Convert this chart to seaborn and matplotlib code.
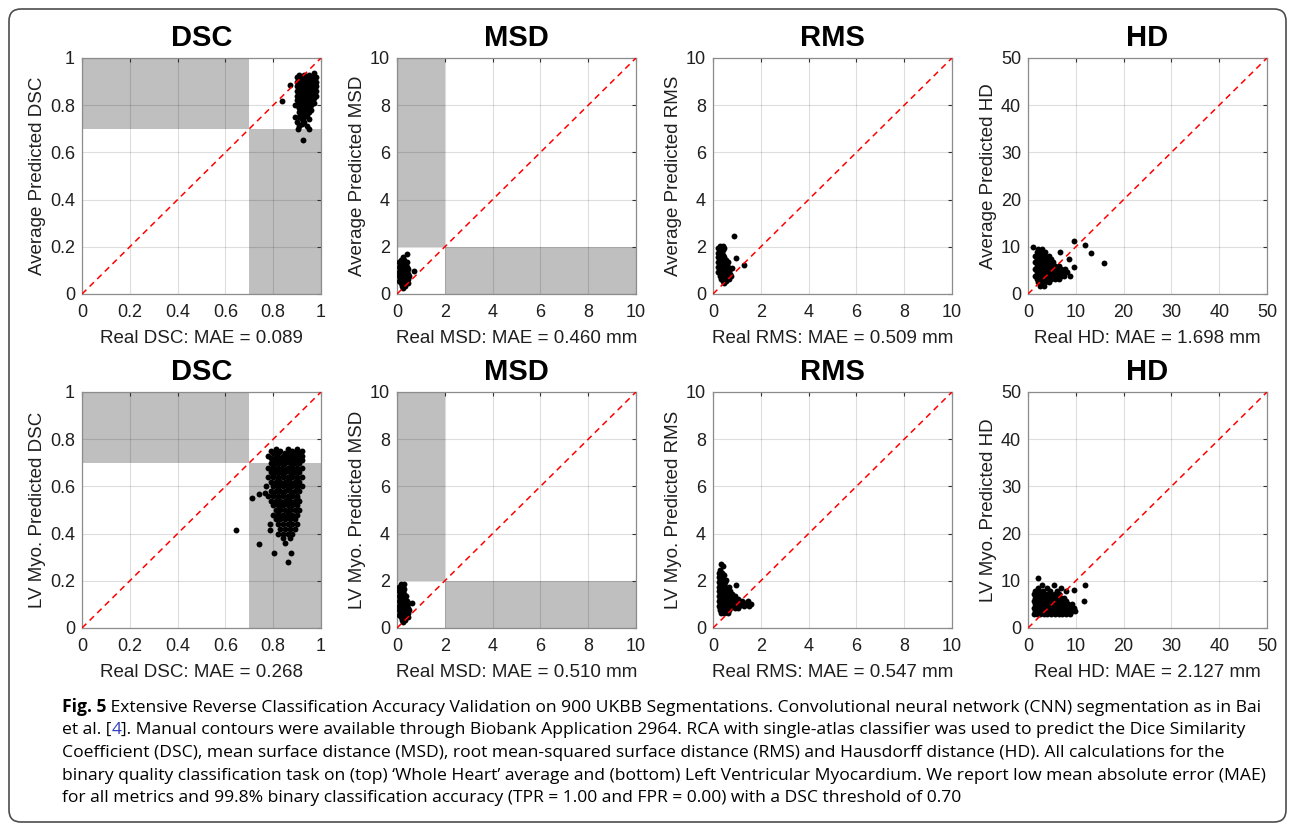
import numpy as np
import pandas as pd
import matplotlib
matplotlib.use("Agg")
import matplotlib.pyplot as plt
from matplotlib.patches import FancyBboxPatch, Rectangle
from matplotlib.transforms import IdentityTransform
from matplotlib.ticker import FuncFormatter
import seaborn as sns

# ---- data: (real, predicted) pairs per panel ----
dsc_avg = [
    (0.91, 0.93), (0.93, 0.93), (0.95, 0.93), (0.97, 0.935),
    (0.90, 0.92), (0.92, 0.92), (0.94, 0.92), (0.96, 0.92), (0.98, 0.92),
    (0.91, 0.91), (0.93, 0.91), (0.95, 0.91), (0.97, 0.91),
    (0.90, 0.90), (0.92, 0.90), (0.94, 0.90), (0.96, 0.90), (0.98, 0.90),
    (0.91, 0.89), (0.93, 0.89), (0.95, 0.89), (0.97, 0.89),
    (0.90, 0.88), (0.92, 0.88), (0.94, 0.88), (0.96, 0.88), (0.98, 0.88),
    (0.91, 0.87), (0.93, 0.87), (0.95, 0.87), (0.97, 0.87),
    (0.90, 0.86), (0.92, 0.86), (0.94, 0.86), (0.96, 0.86), (0.98, 0.86),
    (0.91, 0.85), (0.93, 0.85), (0.95, 0.85), (0.97, 0.85),
    (0.90, 0.84), (0.92, 0.84), (0.94, 0.84), (0.96, 0.84), (0.98, 0.84),
    (0.91, 0.83), (0.93, 0.83), (0.95, 0.83), (0.97, 0.83),
    (0.90, 0.82), (0.92, 0.82), (0.94, 0.82), (0.96, 0.82),
    (0.91, 0.81), (0.93, 0.81), (0.95, 0.81), (0.97, 0.81),
    (0.90, 0.80), (0.92, 0.80), (0.94, 0.80), (0.96, 0.80),
    (0.91, 0.79), (0.93, 0.79), (0.95, 0.79),
    (0.92, 0.78), (0.94, 0.78), (0.96, 0.78),
    (0.91, 0.77), (0.93, 0.77), (0.95, 0.77),
    (0.92, 0.76), (0.94, 0.76), (0.91, 0.75), (0.93, 0.75),
    (0.92, 0.74), (0.95, 0.74), (0.90, 0.73), (0.93, 0.73),
    (0.92, 0.72), (0.91, 0.71), (0.94, 0.71),
    (0.905, 0.698), (0.924, 0.651), (0.87, 0.885), (0.836, 0.818),
    (0.89, 0.80), (0.89, 0.75), (0.95, 0.70),
]
msd_avg = [
    (0.43, 1.71), (0.25, 1.55), (0.15, 1.45), (0.30, 1.45),
    (0.10, 1.35), (0.25, 1.35), (0.40, 1.35), (0.15, 1.25), (0.30, 1.25),
    (0.10, 1.15), (0.25, 1.15), (0.40, 1.15),
    (0.15, 1.05), (0.30, 1.05), (0.45, 1.05),
    (0.10, 0.95), (0.25, 0.95), (0.40, 0.95),
    (0.15, 0.85), (0.30, 0.85), (0.45, 0.85),
    (0.10, 0.75), (0.25, 0.75), (0.40, 0.75), (0.52, 0.75),
    (0.15, 0.65), (0.30, 0.65), (0.45, 0.65),
    (0.10, 0.55), (0.25, 0.55), (0.40, 0.55),
    (0.15, 0.45), (0.30, 0.45), (0.45, 0.45),
    (0.20, 0.35), (0.35, 0.35), (0.25, 0.25), (0.72, 0.98),
]
rms_avg = [
    (0.30, 2.05), (0.42, 2.05), (0.22, 1.95), (0.45, 1.95),
    (0.30, 1.85), (0.40, 1.85), (0.22, 1.75), (0.35, 1.75),
    (0.28, 1.65), (0.42, 1.65), (0.22, 1.55), (0.35, 1.55), (0.48, 1.55),
    (0.28, 1.45), (0.42, 1.45), (0.56, 1.45),
    (0.22, 1.35), (0.35, 1.35), (0.48, 1.35), (0.62, 1.35),
    (0.28, 1.25), (0.42, 1.25), (0.56, 1.25),
    (0.22, 1.15), (0.35, 1.15), (0.48, 1.15), (0.62, 1.15),
    (0.28, 1.05), (0.42, 1.05), (0.56, 1.05), (0.70, 1.05),
    (0.22, 0.95), (0.35, 0.95), (0.48, 0.95), (0.62, 0.95),
    (0.28, 0.85), (0.42, 0.85), (0.56, 0.85), (0.70, 0.85),
    (0.30, 0.75), (0.45, 0.75), (0.60, 0.75), (0.75, 0.75),
    (0.35, 0.65), (0.50, 0.65), (0.65, 0.65),
    (0.40, 0.55), (0.55, 0.55), (0.45, 0.45),
    (0.875, 2.44), (0.96, 1.52), (1.29, 1.23), (0.80, 1.10),
]
hd_avg = [
    (2.0, 9.5), (3.0, 9.5), (1.8, 8.8), (2.6, 8.8), (3.5, 8.8),
    (1.5, 8.1), (2.2, 8.1), (2.9, 8.1), (3.6, 8.1), (4.4, 8.1),
    (1.8, 7.4), (2.6, 7.4), (3.3, 7.4), (4.0, 7.4), (4.8, 7.4),
    (1.5, 6.7), (2.2, 6.7), (2.9, 6.7), (3.6, 6.7), (4.4, 6.7), (5.2, 6.7),
    (1.8, 6.0), (2.6, 6.0), (3.3, 6.0), (4.0, 6.0), (4.8, 6.0), (5.6, 6.0), (6.5, 6.0),
    (1.5, 5.3), (2.2, 5.3), (2.9, 5.3), (3.6, 5.3), (4.4, 5.3), (5.2, 5.3), (6.0, 5.3),
    (6.8, 5.3), (7.8, 5.3),
    (1.8, 4.6), (2.6, 4.6), (3.3, 4.6), (4.0, 4.6), (4.8, 4.6), (5.6, 4.6), (6.4, 4.6),
    (7.2, 4.6), (8.2, 4.6),
    (1.5, 3.9), (2.2, 3.9), (2.9, 3.9), (3.6, 3.9), (4.4, 3.9), (5.2, 3.9), (6.0, 3.9),
    (6.8, 3.9), (7.6, 3.9), (8.8, 3.9),
    (1.8, 3.2), (2.6, 3.2), (3.3, 3.2), (4.0, 3.2), (4.8, 3.2), (5.6, 3.2), (6.4, 3.2),
    (2.0, 2.5), (2.8, 2.5), (3.6, 2.5), (4.4, 2.5), (2.5, 1.8), (3.3, 1.8),
    (1.1, 10.0), (9.6, 11.3), (12.0, 10.4), (13.1, 8.66), (15.9, 6.66),
    (6.75, 8.9), (8.5, 7.4), (9.7, 5.7),
]
dsc_lv = [
    (0.81, 0.76), (0.86, 0.76), (0.90, 0.76),
    (0.79, 0.75), (0.83, 0.75), (0.88, 0.75), (0.92, 0.75),
    (0.80, 0.74), (0.82, 0.74), (0.85, 0.74), (0.87, 0.74), (0.89, 0.74), (0.91, 0.74),
    (0.78, 0.73), (0.81, 0.73), (0.84, 0.73), (0.86, 0.73), (0.88, 0.73), (0.90, 0.73), (0.92, 0.73),
    (0.79, 0.72), (0.81, 0.72), (0.83, 0.72), (0.85, 0.72), (0.87, 0.72), (0.89, 0.72), (0.91, 0.72),
    (0.80, 0.71), (0.82, 0.71), (0.84, 0.71), (0.86, 0.71), (0.88, 0.71), (0.90, 0.71), (0.92, 0.71),
    (0.79, 0.70), (0.81, 0.70), (0.83, 0.70), (0.85, 0.70), (0.87, 0.70), (0.89, 0.70), (0.91, 0.70),
    (0.80, 0.69), (0.84, 0.69), (0.88, 0.69), (0.82, 0.67), (0.86, 0.67), (0.90, 0.67),
    (0.78, 0.68), (0.80, 0.68), (0.82, 0.68), (0.84, 0.68), (0.86, 0.68), (0.88, 0.68), (0.90, 0.68), (0.92, 0.68),
    (0.79, 0.66), (0.81, 0.66), (0.83, 0.66), (0.85, 0.66), (0.87, 0.66), (0.89, 0.66), (0.91, 0.66),
    (0.80, 0.65), (0.84, 0.65), (0.88, 0.65), (0.82, 0.63), (0.86, 0.63), (0.90, 0.63),
    (0.78, 0.64), (0.80, 0.64), (0.82, 0.64), (0.84, 0.64), (0.86, 0.64), (0.88, 0.64), (0.90, 0.64), (0.92, 0.64),
    (0.79, 0.62), (0.81, 0.62), (0.83, 0.62), (0.85, 0.62), (0.87, 0.62), (0.89, 0.62), (0.91, 0.62),
    (0.80, 0.61), (0.84, 0.61), (0.88, 0.61), (0.82, 0.59), (0.86, 0.59), (0.90, 0.59),
    (0.77, 0.60), (0.80, 0.60), (0.82, 0.60), (0.84, 0.60), (0.86, 0.60), (0.88, 0.60), (0.90, 0.60), (0.92, 0.60),
    (0.79, 0.58), (0.81, 0.58), (0.83, 0.58), (0.85, 0.58), (0.87, 0.58), (0.89, 0.58), (0.91, 0.58),
    (0.80, 0.57), (0.84, 0.57), (0.88, 0.57), (0.82, 0.55), (0.86, 0.55), (0.90, 0.55),
    (0.78, 0.56), (0.80, 0.56), (0.82, 0.56), (0.84, 0.56), (0.86, 0.56), (0.88, 0.56), (0.90, 0.56),
    (0.79, 0.54), (0.81, 0.54), (0.83, 0.54), (0.85, 0.54), (0.87, 0.54), (0.89, 0.54), (0.91, 0.54),
    (0.81, 0.53), (0.85, 0.53), (0.89, 0.53), (0.83, 0.51), (0.87, 0.51),
    (0.80, 0.52), (0.82, 0.52), (0.84, 0.52), (0.86, 0.52), (0.88, 0.52), (0.90, 0.52),
    (0.81, 0.50), (0.83, 0.50), (0.85, 0.50), (0.87, 0.50), (0.89, 0.50), (0.91, 0.50),
    (0.82, 0.49), (0.86, 0.49), (0.84, 0.47), (0.88, 0.47),
    (0.80, 0.48), (0.82, 0.48), (0.84, 0.48), (0.86, 0.48), (0.88, 0.48), (0.90, 0.48),
    (0.81, 0.46), (0.83, 0.46), (0.85, 0.46), (0.87, 0.46), (0.89, 0.46),
    (0.82, 0.44), (0.84, 0.44), (0.86, 0.44), (0.88, 0.44), (0.90, 0.44),
    (0.83, 0.42), (0.85, 0.42), (0.87, 0.42), (0.89, 0.42),
    (0.82, 0.40), (0.84, 0.40), (0.86, 0.40), (0.88, 0.40),
    (0.84, 0.38), (0.87, 0.38), (0.85, 0.36),
    (0.711, 0.552), (0.742, 0.569), (0.767, 0.572), (0.786, 0.44), (0.785, 0.414),
    (0.739, 0.355), (0.804, 0.318), (0.874, 0.319), (0.864, 0.28), (0.646, 0.414),
]
msd_lv = [
    (0.15, 1.85), (0.30, 1.85), (0.10, 1.75), (0.25, 1.75),
    (0.15, 1.65), (0.30, 1.65), (0.10, 1.55), (0.25, 1.55),
    (0.15, 1.45), (0.30, 1.45), (0.10, 1.35), (0.25, 1.35), (0.38, 1.35),
    (0.15, 1.25), (0.30, 1.25), (0.10, 1.15), (0.25, 1.15), (0.40, 1.15),
    (0.15, 1.05), (0.30, 1.05), (0.45, 1.05), (0.61, 1.07),
    (0.10, 0.95), (0.25, 0.95), (0.40, 0.95),
    (0.15, 0.85), (0.30, 0.85), (0.45, 0.85),
    (0.10, 0.75), (0.25, 0.75), (0.40, 0.75), (0.50, 0.75),
    (0.15, 0.65), (0.30, 0.65), (0.45, 0.65),
    (0.10, 0.55), (0.25, 0.55), (0.40, 0.55),
    (0.15, 0.45), (0.30, 0.45), (0.45, 0.45),
    (0.20, 0.35), (0.35, 0.35), (0.25, 0.25),
]
rms_lv = [
    (0.32, 2.72), (0.43, 2.63), (0.30, 2.45), (0.25, 2.35), (0.38, 2.35),
    (0.30, 2.25), (0.45, 2.25), (0.25, 2.15), (0.38, 2.15),
    (0.30, 2.05), (0.45, 2.05), (0.55, 2.05), (0.25, 1.95), (0.38, 1.95), (0.50, 1.95),
    (0.30, 1.85), (0.45, 1.85), (0.96, 1.83),
    (0.25, 1.75), (0.38, 1.75), (0.52, 1.75), (0.65, 1.75),
    (0.30, 1.65), (0.45, 1.65), (0.58, 1.65),
    (0.25, 1.55), (0.38, 1.55), (0.52, 1.55), (0.70, 1.55),
    (0.30, 1.45), (0.45, 1.45), (0.58, 1.45), (0.80, 1.45),
    (0.25, 1.35), (0.38, 1.35), (0.52, 1.35), (0.65, 1.35), (0.90, 1.35),
    (0.30, 1.25), (0.45, 1.25), (0.58, 1.25), (0.72, 1.25), (0.85, 1.25), (1.05, 1.25),
    (0.25, 1.15), (0.38, 1.15), (0.52, 1.15), (0.65, 1.15), (0.80, 1.15), (0.95, 1.15),
    (1.20, 1.15), (1.45, 1.15),
    (0.30, 1.05), (0.45, 1.05), (0.58, 1.05), (0.72, 1.05), (0.88, 1.05), (1.02, 1.05),
    (1.15, 1.05), (1.35, 1.05), (1.61, 1.03),
    (0.25, 0.95), (0.38, 0.95), (0.52, 0.95), (0.65, 0.95), (0.80, 0.95), (0.95, 0.95),
    (1.10, 0.95), (1.28, 0.95), (1.50, 0.95),
    (0.30, 0.85), (0.45, 0.85), (0.58, 0.85), (0.72, 0.85), (0.90, 0.85), (1.05, 0.85),
    (0.28, 0.75), (0.40, 0.75), (0.55, 0.75), (0.68, 0.75),
    (0.32, 0.65), (0.48, 0.65), (0.62, 0.65),
]
hd_lv = [
    (2.0, 10.6), (3.0, 9.2), (5.5, 9.2), (2.0, 8.5), (4.0, 8.5), (7.0, 8.5),
    (1.5, 7.8), (2.3, 7.8), (3.1, 7.8), (4.5, 7.8), (6.0, 7.8), (8.0, 7.8),
    (1.2, 7.1), (1.9, 7.1), (2.6, 7.1), (3.3, 7.1), (4.0, 7.1), (4.8, 7.1), (5.6, 7.1), (6.5, 7.1),
    (1.5, 6.4), (2.3, 6.4), (3.0, 6.4), (3.7, 6.4), (4.4, 6.4), (5.2, 6.4), (6.0, 6.4),
    (6.8, 6.4), (7.6, 6.4),
    (1.2, 5.7), (1.9, 5.7), (2.6, 5.7), (3.3, 5.7), (4.0, 5.7), (4.8, 5.7), (5.6, 5.7),
    (6.4, 5.7), (7.2, 5.7), (8.0, 5.7),
    (1.5, 5.0), (2.3, 5.0), (3.0, 5.0), (3.7, 5.0), (4.4, 5.0), (5.2, 5.0), (6.0, 5.0),
    (6.8, 5.0), (7.6, 5.0), (8.4, 5.0), (9.2, 5.0),
    (1.2, 4.3), (1.9, 4.3), (2.6, 4.3), (3.3, 4.3), (4.0, 4.3), (4.8, 4.3), (5.6, 4.3),
    (6.4, 4.3), (7.2, 4.3), (8.0, 4.3), (8.8, 4.3), (9.6, 4.3),
    (1.5, 3.6), (2.3, 3.6), (3.0, 3.6), (3.7, 3.6), (4.4, 3.6), (5.2, 3.6), (6.0, 3.6),
    (6.8, 3.6), (7.6, 3.6), (8.4, 3.6), (9.2, 3.6), (9.9, 3.6),
    (1.2, 2.9), (1.9, 2.9), (2.6, 2.9), (3.3, 2.9), (4.0, 2.9), (4.8, 2.9), (5.6, 2.9),
    (6.4, 2.9), (7.2, 2.9), (8.0, 2.9), (8.8, 2.9),
    (12.0, 9.2), (11.8, 5.65), (9.7, 8.0),
]

metrics = ["DSC", "MSD", "RMS", "HD"]
limits = [1, 10, 10, 50]
tick_steps = [0.2, 2, 2, 10]
thresholds = [0.7, 2, None, None]
mae_top = ["0.089", "0.460 mm", "0.509 mm", "1.698 mm"]
mae_bottom = ["0.268", "0.510 mm", "0.547 mm", "2.127 mm"]
row_names = ["Average", "LV Myo."]
panel_data = [[dsc_avg, msd_avg, rms_avg, hd_avg], [dsc_lv, msd_lv, rms_lv, hd_lv]]
row_mae = [mae_top, mae_bottom]

caption = [
    [("Fig. 5", "bold", "black"),
     (" Extensive Reverse Classification Accuracy Validation on 900 UKBB Segmentations. "
      "Convolutional neural network (CNN) segmentation as in Bai", "normal", "black")],
    [("et al. [", "normal", "black"), ("4", "normal", "#2f3fbf"),
     ("]. Manual contours were available through Biobank Application 2964. RCA with "
      "single-atlas classifier was used to predict the Dice Similarity", "normal", "black")],
    [("Coefficient (DSC), mean surface distance (MSD), root mean-squared surface distance "
      "(RMS) and Hausdorff distance (HD). All calculations for the", "normal", "black")],
    [("binary quality classification task on (top) \u2018Whole Heart\u2019 average and (bottom) "
      "Left Ventricular Myocardium. We report low mean absolute error (MAE)", "normal", "black")],
    [("for all metrics and 99.8% binary classification accuracy (TPR = 1.00 and FPR = 0.00) "
      "with a DSC threshold of 0.70", "normal", "black")],
]

sns.set_theme(style="white")
plt.rcParams["font.family"] = ["Liberation Sans", "DejaVu Sans"]

W, H = 1294, 832
fig = plt.figure(figsize=(W / 100, H / 100), dpi=100)

# outer rounded frame
frame = FancyBboxPatch((9, 10), 1277, 813, boxstyle="round,pad=0,rounding_size=12",
                       transform=IdentityTransform(), facecolor="none",
                       edgecolor="#4d4d4d", linewidth=1.2)
fig.patches.append(frame)

col_left = [82, 397, 713, 1028]
row_top = [58, 392]
ax_w, ax_h = 239, 236

fmt = FuncFormatter(lambda v, p: f"{v:g}")

for r in range(2):
    for c in range(4):
        ax = fig.add_axes([col_left[c] / W, 1 - (row_top[r] + ax_h) / H, ax_w / W, ax_h / H])
        lim = limits[c]
        thr = thresholds[c]
        if thr is not None:
            ax.add_patch(Rectangle((0, thr), thr, lim - thr, facecolor="#bfbfbf",
                                   edgecolor="none", zorder=0))
            ax.add_patch(Rectangle((thr, 0), lim - thr, thr, facecolor="#bfbfbf",
                                   edgecolor="none", zorder=0))
        df = pd.DataFrame(panel_data[r][c], columns=["real", "pred"])
        sns.scatterplot(data=df, x="real", y="pred", ax=ax, color="black", s=18,
                        linewidth=0, zorder=3)
        ax.plot([0, lim], [0, lim], color="red", linestyle=(0, (4, 3)), linewidth=1.1, zorder=4)

        ticks = np.arange(0, lim + tick_steps[c] / 2, tick_steps[c])
        ax.set_xlim(0, lim)
        ax.set_ylim(0, lim)
        ax.set_xticks(ticks)
        ax.set_yticks(ticks)
        ax.xaxis.set_major_formatter(fmt)
        ax.yaxis.set_major_formatter(fmt)
        ax.grid(True, color="black", alpha=0.13, linewidth=0.8)
        ax.tick_params(direction="in", length=3, width=0.8, top=True, right=True,
                       labelsize=13, colors="#333333", labelcolor="#1f1f1f")
        ax.tick_params(axis="x", pad=7)
        ax.tick_params(axis="y", pad=5)
        for sp in ax.spines.values():
            sp.set_color("#8c8c8c")
            sp.set_linewidth(0.9)
        ax.set_title(metrics[c], fontsize=21, fontweight="bold", pad=9, color="black")
        ax.set_xlabel(f"Real {metrics[c]}: MAE = {row_mae[r][c]}", fontsize=13.5,
                      color="#1f1f1f", labelpad=7)
        ax.set_ylabel(f"{row_names[r]} Predicted {metrics[c]}", fontsize=13.5,
                      color="#1f1f1f", labelpad=3)

# caption, pieces of one line placed one after another
cap_family = ["Open Sans", "DejaVu Sans"]
cap_size = 12.6
line_base = [712, 734, 757, 780, 802]
fig.canvas.draw()
renderer = fig.canvas.get_renderer()
for i, parts in enumerate(caption):
    x_px = 62
    for txt, weight, col in parts:
        t = fig.text(x_px / W, 1 - line_base[i] / H, txt, fontsize=cap_size,
                     fontweight=weight, color=col, va="baseline", ha="left",
                     family=cap_family)
        x_px = t.get_window_extent(renderer).x1

fig.savefig("out.png", dpi=100)
